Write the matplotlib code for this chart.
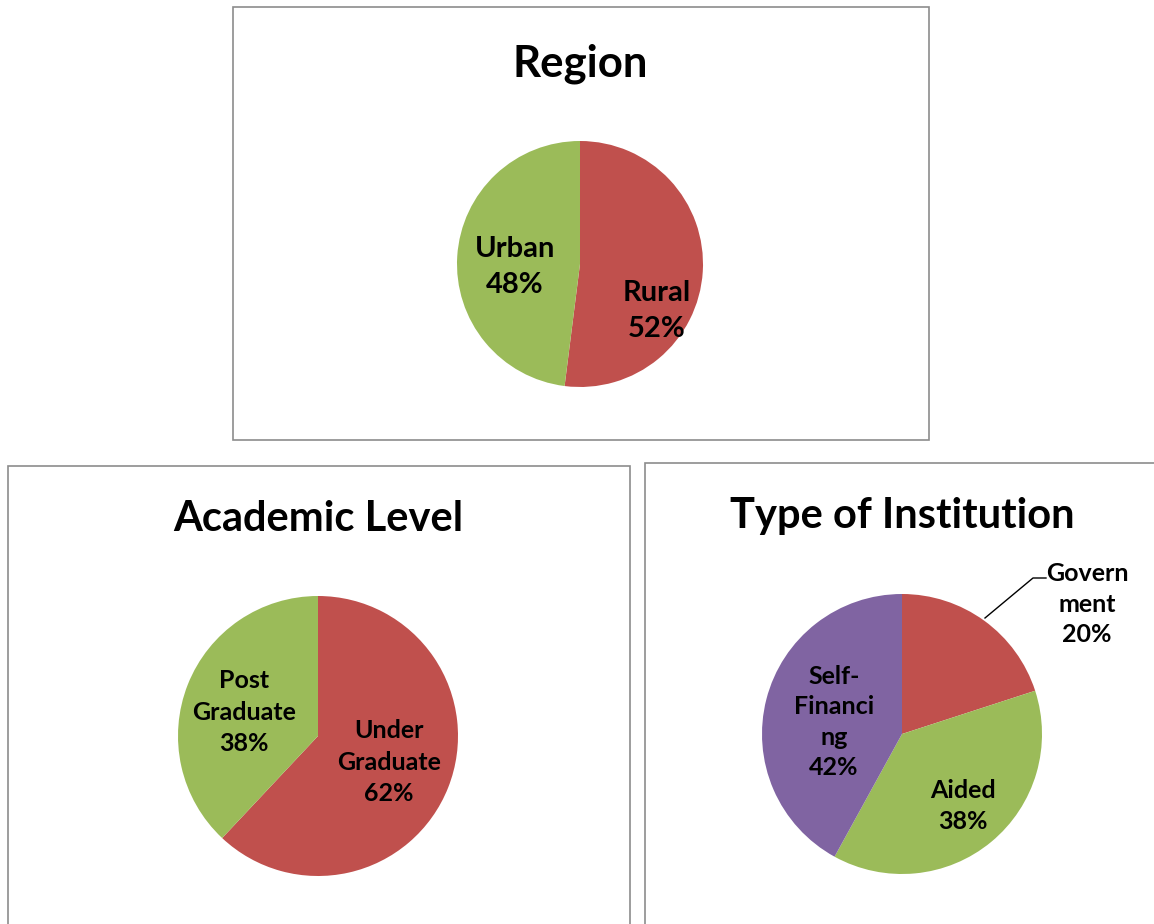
import matplotlib
matplotlib.use("Agg")
import matplotlib.pyplot as plt
from matplotlib.patches import Rectangle

# ---- data ----
region_labels = ["Rural", "Urban"]
region_values = [52, 48]
academic_labels = ["Under\nGraduate", "Post\nGraduate"]
academic_values = [62, 38]
inst_labels = ["Govern\nment", "Aided", "Self-\nFinanci\nng"]
inst_values = [20, 38, 42]

RED, GREEN, PURPLE = "#C0504D", "#9BBB59", "#8064A2"
FONT = ["Lato", "DejaVu Sans"]

W, H = 1154, 924
fig = plt.figure(figsize=(W / 100, H / 100), dpi=100)
fig.patch.set_facecolor("white")


def fx(x):
    return x / W


def fy(y):
    return 1 - y / H


def box(x0, y0, x1, y1):
    fig.patches.append(Rectangle((fx(x0), fy(y1)), fx(x1) - fx(x0), fy(y0) - fy(y1),
                                 transform=fig.transFigure, fill=False,
                                 edgecolor="#8c8c8c", linewidth=1.2, zorder=0))


def pie(cx, cy, R, values, labels, colors, label_pos, fs, ls):
    S = 2.2 * R
    ax = fig.add_axes([fx(cx - S), fy(cy + S), 2 * S / W, 2 * S / H])
    ax.pie(values, colors=colors, startangle=90, counterclock=False, radius=1,
           wedgeprops=dict(linewidth=0))
    ax.set_xlim(-S / R, S / R)
    ax.set_ylim(-S / R, S / R)
    ax.set_aspect("equal")
    ax.axis("off")
    for v, lab, (dx, dy) in zip(values, labels, label_pos):
        ax.text(dx / R, -dy / R, f"{lab}\n{v}%", ha="center", va="center",
                fontsize=fs, fontweight="bold", family=FONT, linespacing=ls,
                clip_on=False)
    return ax


# boxes
box(233, 7, 929, 440)
box(8, 466, 630, 940)
box(645, 463, 1170, 940)

# titles
fig.text(fx(580), fy(76), "Region", ha="center", va="baseline",
         fontsize=31.5, fontweight="bold", family=FONT)
fig.text(fx(318), fy(531), "Academic Level", ha="center", va="baseline",
         fontsize=30, fontweight="bold", family=FONT)
fig.text(fx(902), fy(528), "Type of Institution", ha="center", va="baseline",
         fontsize=30, fontweight="bold", family=FONT)

# pies
pie(580, 264, 123, region_values, region_labels, [RED, GREEN],
    [(77, 47), (-65, 3)], 21, 1.5)
pie(318, 736, 140, academic_values, academic_labels, [RED, GREEN],
    [(71, 26), (-74, -24)], 18, 1.45)
ax3 = pie(902, 734, 140, inst_values, inst_labels, [RED, GREEN, PURPLE],
          [(185, -130), (61, 72), (-68, -12)], 18, 1.4)
# leader line for Government label
R3 = 140
ax3.plot([144 / R3, 131 / R3, 83 / R3], [156 / R3, 156 / R3, 116 / R3],
         color="black", linewidth=1, clip_on=False)

fig.savefig("out.png", dpi=100, facecolor="white")
